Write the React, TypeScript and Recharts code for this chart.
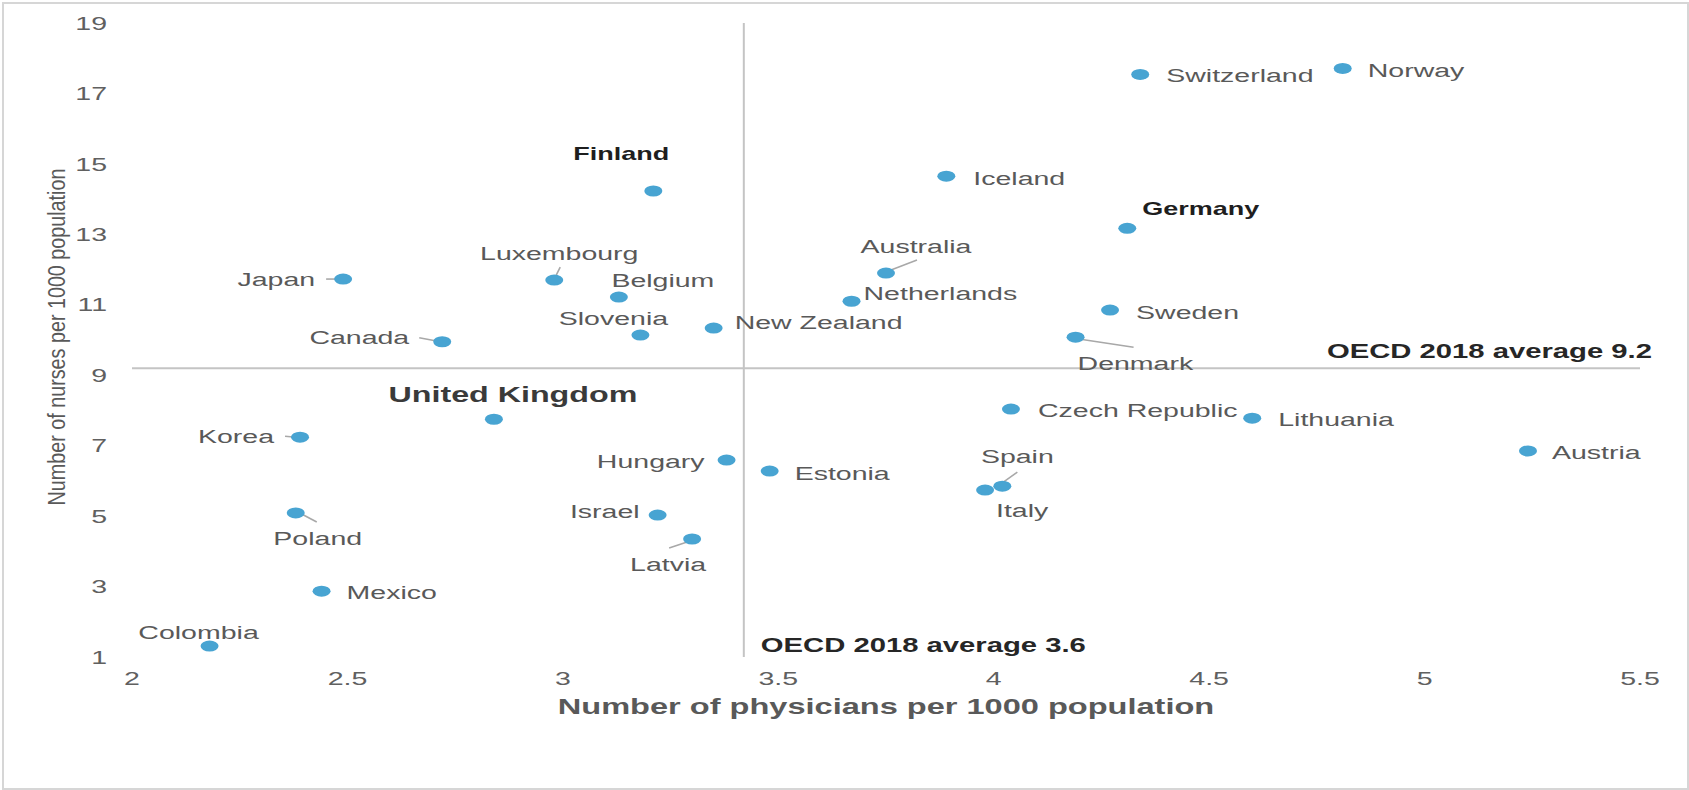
import React from "react";
import { ScatterChart, Scatter, XAxis, YAxis, ReferenceLine } from "recharts";

const FONT = '"Liberation Sans", Arial, Helvetica, sans-serif';
// the source picture is stretched sideways, so text is widened to match
const STRETCH = 1.5;

const countries = [
  "Colombia", "Mexico", "Poland", "Korea", "Japan", "Canada", "United Kingdom",
  "Luxembourg", "Belgium", "Slovenia", "Finland", "Israel", "Latvia", "New Zealand",
  "Hungary", "Estonia", "Netherlands", "Australia", "Iceland", "Italy", "Spain",
  "Czech Republic", "Denmark", "Sweden", "Germany", "Switzerland", "Lithuania",
  "Norway", "Austria",
];
const physicians = [
  2.18, 2.44, 2.38, 2.39, 2.49, 2.72, 2.84, 2.98, 3.13, 3.18, 3.21, 3.22, 3.3, 3.35,
  3.38, 3.48, 3.67, 3.75, 3.89, 3.98, 4.02, 4.04, 4.19, 4.27, 4.31, 4.34, 4.6, 4.81, 5.24,
];
const nurses = [
  1.31, 2.87, 5.09, 7.24, 11.73, 9.95, 7.75, 11.7, 11.22, 10.14, 14.23, 5.03, 4.35, 10.34,
  6.59, 6.28, 11.1, 11.9, 14.65, 5.74, 5.85, 8.04, 10.08, 10.85, 13.17, 17.54, 7.78, 17.71, 6.85,
];
const xTicks = [2, 2.5, 3, 3.5, 4, 4.5, 5, 5.5];
const yTicks = [1, 3, 5, 7, 9, 11, 13, 15, 17, 19];

const nursesAvg = 9.2;
const nursesAvgLabel = "OECD 2018 average 9.2";
// the vertical line sits here in the source, though its label reads 3.6
const physiciansAvgLine = 3.42;
const physiciansAvgLabel = "OECD 2018 average 3.6";

const data = countries.map((name, i) => ({ name, x: physicians[i], y: nurses[i] }));

type Anchor = "start" | "middle" | "end";
type LabelPos = { dx: number; dy: number; anchor: Anchor; leader?: number[]; style?: "bold" | "big" };

// label placement relative to each dot (px)
const labelPos: Record<string, LabelPos> = {
  Colombia: { dx: -11, dy: -14, anchor: "middle" },
  Mexico: { dx: 25, dy: 1, anchor: "start" },
  Poland: { dx: 22, dy: 25, anchor: "middle", leader: [4, 0, 21, 9] },
  Korea: { dx: -26, dy: -1, anchor: "end", leader: [-15, -1, -4, 0] },
  Japan: { dx: -28, dy: 0, anchor: "end", leader: [-17, 0, -6, 0] },
  Canada: { dx: -33, dy: -4, anchor: "end", leader: [-23, -4, -7, -1] },
  "United Kingdom": { dx: 19, dy: -25, anchor: "middle", style: "big" },
  Luxembourg: { dx: 5, dy: -27, anchor: "middle", leader: [2, -5, 6, -13] },
  Belgium: { dx: 44, dy: -17, anchor: "middle" },
  Slovenia: { dx: -27, dy: -17, anchor: "middle" },
  Finland: { dx: -32, dy: -37, anchor: "middle", style: "bold" },
  Israel: { dx: -18, dy: -4, anchor: "end" },
  Latvia: { dx: -24, dy: 25, anchor: "middle", leader: [-5, 3, -23, 9] },
  "New Zealand": { dx: 21, dy: -6, anchor: "start" },
  Hungary: { dx: -22, dy: 1, anchor: "end" },
  Estonia: { dx: 25, dy: 2, anchor: "start" },
  Netherlands: { dx: 12, dy: -8, anchor: "start" },
  Australia: { dx: 30, dy: -27, anchor: "middle", leader: [5, -3, 31, -13] },
  Iceland: { dx: 27, dy: 2, anchor: "start" },
  Italy: { dx: 37, dy: 20, anchor: "middle" },
  Spain: { dx: 15, dy: -30, anchor: "middle", leader: [1, -4, 15, -14] },
  "Czech Republic": { dx: 27, dy: 1, anchor: "start" },
  Denmark: { dx: 2, dy: 26, anchor: "start", leader: [5, 2, 58, 10] },
  Sweden: { dx: 26, dy: 2, anchor: "start" },
  Germany: { dx: 15, dy: -20, anchor: "start", style: "bold" },
  Switzerland: { dx: 26, dy: 1, anchor: "start" },
  Lithuania: { dx: 26, dy: 1, anchor: "start" },
  Norway: { dx: 25, dy: 2, anchor: "start" },
  Austria: { dx: 24, dy: 1, anchor: "start" },
};

function SText({ x, y, anchor = "start", size, weight = 400, fill, sx = STRETCH, children }: any) {
  return (
    <text
      transform={`translate(${x},${y}) scale(${sx},1)`}
      textAnchor={anchor}
      dominantBaseline="central"
      fontFamily={FONT}
      fontSize={size}
      fontWeight={weight}
      fill={fill}
    >
      {children}
    </text>
  );
}

function XTick({ x, y, payload }: any) {
  return (
    <SText x={x} y={y} anchor="middle" size={19} fill="#606060">
      {payload.value}
    </SText>
  );
}

function YTick({ x, y, payload }: any) {
  return (
    <SText x={x} y={y} anchor="end" size={19} fill="#606060">
      {payload.value}
    </SText>
  );
}

function CountryDot({ cx, cy, payload }: any) {
  const p = labelPos[payload.name];
  const bold = p.style === "bold";
  const big = p.style === "big";
  return (
    <g>
      {p.leader && (
        <line
          x1={cx + p.leader[0]}
          y1={cy + p.leader[1]}
          x2={cx + p.leader[2]}
          y2={cy + p.leader[3]}
          stroke="#a8a8a8"
          strokeWidth={1.6}
        />
      )}
      <ellipse cx={cx} cy={cy} rx={9} ry={5.5} fill="#48a4d2" />
      <SText
        x={cx + p.dx}
        y={cy + p.dy}
        anchor={p.anchor}
        size={big ? 21.5 : bold ? 18 : 19}
        weight={bold || big ? 700 : 400}
        fill={bold ? "#1e1e1e" : big ? "#3a3a3a" : "#595959"}
      >
        {payload.name}
      </SText>
    </g>
  );
}

export default function App() {
  return (
    <div style={{ position: "absolute", left: 0, top: 0, width: 1689, height: 790, background: "#fff" }}>
      <ScatterChart width={1689} height={790} margin={{ top: 23, right: 49, bottom: 0, left: 0 }}>
        <XAxis
          type="number"
          dataKey="x"
          domain={[2, 5.5]}
          ticks={xTicks}
          interval={0}
          axisLine={false}
          tickLine={false}
          tickSize={0}
          tickMargin={21}
          height={133}
          tick={<XTick />}
          label={(props: any) => {
            const vb = props.viewBox || { x: 132, y: 657, width: 1508 };
            return (
              <SText x={vb.x + vb.width / 2} y={vb.y + 50} anchor="middle" size={21.7} weight={700} fill="#595959">
                Number of physicians per 1000 population
              </SText>
            );
          }}
        />
        <YAxis
          type="number"
          dataKey="y"
          domain={[1, 19]}
          ticks={yTicks}
          interval={0}
          axisLine={false}
          tickLine={false}
          tickSize={0}
          tickMargin={25}
          width={132}
          tick={<YTick />}
          label={(props: any) => {
            const vb = props.viewBox || { y: 23, height: 634 };
            return (
              <text
                transform={`translate(57,${vb.y + vb.height / 2 - 3}) scale(1.2,1) rotate(-90)`}
                textAnchor="middle"
                dominantBaseline="central"
                fontFamily={FONT}
                fontSize={19.75}
                fill="#595959"
              >
                Number of nurses per 1000 population
              </text>
            );
          }}
        />
        <ReferenceLine
          y={nursesAvg}
          stroke="#c4c4c4"
          strokeWidth={2}
          label={(props: any) => {
            const vb = props.viewBox;
            return (
              <SText x={vb.x + vb.width + 12} y={vb.y - 17} anchor="end" size={19.5} weight={700} fill="#262626">
                {nursesAvgLabel}
              </SText>
            );
          }}
        />
        <ReferenceLine
          x={physiciansAvgLine}
          stroke="#c4c4c4"
          strokeWidth={2}
          label={(props: any) => {
            const vb = props.viewBox;
            return (
              <SText x={vb.x + 17} y={vb.y + vb.height - 12} anchor="start" size={19.5} weight={700} fill="#262626">
                {physiciansAvgLabel}
              </SText>
            );
          }}
        />
        <Scatter data={data} shape={(props: any) => <CountryDot {...props} />} isAnimationActive={false} />
      </ScatterChart>
      <div
        style={{
          position: "absolute",
          left: 2,
          top: 2,
          width: 1683,
          height: 784,
          border: "2px solid #d6d6d6",
          pointerEvents: "none",
        }}
      />
    </div>
  );
}
